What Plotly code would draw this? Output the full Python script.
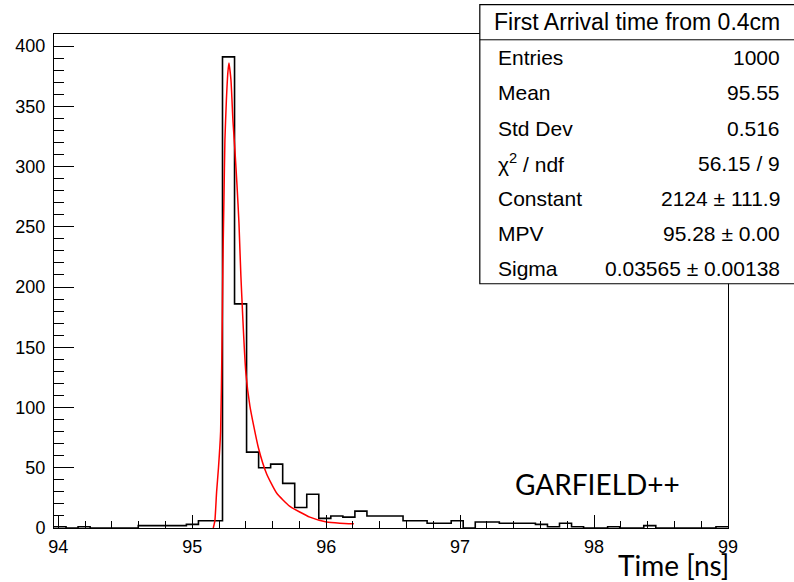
import plotly.graph_objects as go

# ---------------- data ----------------
x_min = 93.968
x_max = 99.0
n_bins = 56
counts = [1, 0, 1, 0, 0, 0, 0, 2, 2, 2,
          2, 3, 6, 6, 391, 186, 63, 50, 53, 37,
          17, 28, 8, 10, 9, 14, 10, 10, 10, 6,
          6, 4, 4, 6, 0, 5, 5, 4, 4, 4,
          3, 1, 4, 1, 0, 0, 1, 0, 0, 2,
          0, 0, 0, 0, 0, 1]

fit_x = [95.157, 95.169, 95.182, 95.196, 95.212, 95.222, 95.229, 95.237, 95.244,
         95.255, 95.266, 95.274, 95.289, 95.304, 95.319, 95.334, 95.349, 95.363,
         95.401, 95.431, 95.493, 95.555, 95.630, 95.729, 95.878, 96.003, 96.102, 96.207]
fit_y = [0, 6, 30, 50, 80, 150, 220, 275, 322,
         355, 378, 386, 372, 338, 313, 285, 253, 210,
         128, 101, 67, 45, 29, 18, 9, 5, 4, 3.5]

stats_title = "First Arrival time from 0.4cm"
stats_labels = ["Entries", "Mean", "Std Dev", "\u03c7<sup>2</sup> / ndf", "Constant", "MPV", "Sigma"]
stats_values = ["1000", "95.55", "0.516", "56.15 / 9", "2124 \u00b1 111.9", "95.28 \u00b1 0.00",
                "0.03565 \u00b1 0.00138"]

x_ticks = [94, 95, 96, 97, 98, 99]

# ---------------- figure ----------------
W, H = 794, 582
L, R, T, B = 54, 728.3, 33.5, 528.0

def xp(px):
    return (px - L) / (R - L)

def yp(py):
    return (B - py) / (B - T)

bw = (x_max - x_min) / n_bins
edges = [x_min + i * bw for i in range(n_bins + 1)]

fig = go.Figure()
fig.add_trace(go.Scatter(
    x=edges, y=counts + [counts[-1]], mode="lines",
    line=dict(shape="hv", color="black", width=1.6),
    hoverinfo="skip", showlegend=False))
fig.add_trace(go.Scatter(
    x=fit_x, y=fit_y, mode="lines",
    line=dict(color="#ff0000", width=1.5, shape="spline", smoothing=0.5),
    hoverinfo="skip", showlegend=False))

tickfont = dict(family="Liberation Sans, Arial, sans-serif", size=18, color="black")

fig.update_layout(
    width=W, height=H,
    margin=dict(l=L, r=W - R, t=T, b=H - B, pad=0),
    paper_bgcolor="white", plot_bgcolor="white",
    showlegend=False,
    xaxis=dict(range=[x_min, x_max], showline=True, linecolor="black", linewidth=1,
               mirror=True, ticks="inside", ticklen=13, tickwidth=1, tickcolor="black",
               tickmode="array", tickvals=x_ticks, ticktext=[str(v) for v in x_ticks],
               minor=dict(dtick=0.2, tick0=94, ticks="inside", ticklen=7,
                          tickcolor="black", tickwidth=1, showgrid=False),
               showgrid=False, zeroline=False, tickfont=tickfont, ticklabelstandoff=2),
    yaxis=dict(range=[0, 410], showline=True, linecolor="black", linewidth=1,
               mirror=True, ticks="inside", ticklen=20, tickwidth=1, tickcolor="black",
               dtick=50, tick0=0,
               minor=dict(dtick=10, tick0=0, ticks="inside", ticklen=10,
                          tickcolor="black", tickwidth=1, showgrid=False),
               showgrid=False, zeroline=False, tickfont=tickfont, ticklabelstandoff=4),
)

# stats box
bx0, bx1, by0, by1 = 480, 797, 4, 283.5
fig.add_shape(type="rect", xref="paper", yref="paper",
              x0=xp(bx0), x1=xp(bx1), y0=yp(by1), y1=yp(by0),
              line=dict(color="black", width=1.2), fillcolor="white", layer="above")
fig.add_shape(type="line", xref="paper", yref="paper",
              x0=xp(bx0), x1=xp(bx1), y0=yp(39.3), y1=yp(39.3),
              line=dict(color="black", width=1), layer="above")

sfont = dict(family="Liberation Sans, Arial, sans-serif", size=21, color="black")
fig.add_annotation(xref="paper", yref="paper", x=xp(637), y=yp(21.5),
                   text=stats_title, showarrow=False, xanchor="center", yanchor="middle",
                   font=dict(family="Liberation Sans, Arial, sans-serif", size=23, color="black"))
row_y = [57.3, 92.3, 127.7, 162.7, 198.3, 233.3, 268.3]
for lab, val, ry in zip(stats_labels, stats_values, row_y):
    fig.add_annotation(xref="paper", yref="paper", x=xp(496), y=yp(ry), text=lab,
                       showarrow=False, xanchor="left", yanchor="middle", font=sfont)
    fig.add_annotation(xref="paper", yref="paper", x=xp(782), y=yp(ry), text=val,
                       showarrow=False, xanchor="right", yanchor="middle", font=sfont)

# GARFIELD++ label
fig.add_annotation(xref="paper", yref="paper", x=xp(598), y=yp(483.5), text="GARFIELD++",
                   showarrow=False, xanchor="center", yanchor="middle",
                   font=dict(family="Lato, sans-serif", size=28, color="black"))
# x axis title
fig.add_annotation(xref="paper", yref="paper", x=xp(731), y=yp(565.5), text="Time [ns]",
                   showarrow=False, xanchor="right", yanchor="middle",
                   font=dict(family="Lato, sans-serif", size=28, color="black"))

fig.write_html("out.html")
